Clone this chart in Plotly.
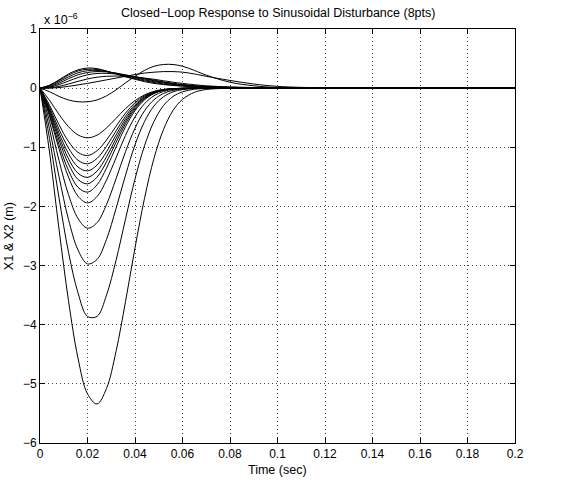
import plotly.graph_objects as go

# time samples (sec)
t = [0, 0.004, 0.008, 0.012, 0.016, 0.02, 0.024, 0.028, 0.032, 0.036, 0.04, 0.044,
     0.048, 0.052, 0.056, 0.06, 0.065, 0.07, 0.08, 0.09, 0.1, 0.12, 0.15, 0.2]

# responses in units of 1e-6 m
dip_084 = [0, -0.205, -0.444, -0.652, -0.791, -0.84, -0.795, -0.673, -0.511, -0.346, -0.211, -0.114,
           -0.055, -0.024, -0.009, -0.003, -0.001, 0, 0, 0, 0, 0, 0, 0]
dip_114 = [0, -0.287, -0.618, -0.902, -1.086, -1.139, -1.059, -0.877, -0.645, -0.423, -0.247, -0.129,
           -0.059, -0.024, -0.009, -0.003, 0, 0, 0, 0, 0, 0, 0, 0]
dip_128 = [0, -0.323, -0.694, -1.012, -1.220, -1.279, -1.189, -0.984, -0.724, -0.475, -0.278, -0.145,
           -0.067, -0.027, -0.010, -0.003, 0, 0, 0, 0, 0, 0, 0, 0]
dip_140 = [0, -0.353, -0.759, -1.107, -1.334, -1.399, -1.301, -1.077, -0.792, -0.519, -0.304, -0.158,
           -0.073, -0.030, -0.011, -0.004, 0, 0, 0, 0, 0, 0, 0, 0]
dip_151 = [0, -0.381, -0.818, -1.194, -1.439, -1.508, -1.403, -1.161, -0.855, -0.560, -0.328, -0.171,
           -0.079, -0.032, -0.012, -0.004, 0, 0, 0, 0, 0, 0, 0, 0]
dip_162 = [0, -0.408, -0.878, -1.281, -1.544, -1.618, -1.505, -1.246, -0.917, -0.601, -0.352, -0.183,
           -0.084, -0.035, -0.013, -0.004, 0, 0, 0, 0, 0, 0, 0, 0]
dip_176 = [0, -0.444, -0.954, -1.392, -1.677, -1.758, -1.635, -1.353, -0.996, -0.653, -0.382, -0.199,
           -0.092, -0.038, -0.014, -0.004, 0, 0, 0, 0, 0, 0, 0, 0]
dip_194 = [0, -0.473, -1.026, -1.505, -1.827, -1.940, -1.835, -1.554, -1.180, -0.799, -0.487, -0.264,
           -0.128, -0.056, -0.022, -0.008, -0.002, 0, 0, 0, 0, 0, 0, 0]
dip_237 = [0, -0.562, -1.221, -1.801, -2.204, -2.368, -2.275, -1.969, -1.533, -1.074, -0.678, -0.384,
           -0.197, -0.090, -0.037, -0.014, -0.004, 0, 0, 0, 0, 0, 0, 0]
dip_298 = [0, -0.688, -1.496, -2.220, -2.736, -2.971, -2.897, -2.557, -2.038, -1.472, -0.960, -0.566,
           -0.301, -0.146, -0.063, -0.025, -0.007, 0, 0, 0, 0, 0, 0, 0]
dip_388 = [0, -0.850, -1.855, -2.774, -3.461, -3.860, -3.860, -3.500, -2.914, -2.215, -1.536, -0.974,
           -0.563, -0.295, -0.142, -0.062, -0.019, -0.005, 0, 0, 0, 0, 0, 0]
dip_534 = [0, -1.079, -2.382, -3.594, -4.566, -5.169, -5.340, -5.078, -4.454, -3.610, -2.702, -1.864,
           -1.185, -0.700, -0.378, -0.190, -0.071, -0.023, -0.002, 0, 0, 0, 0, 0]

# small dip followed by the large late overshoot
dip_023 = [0, -0.06, -0.14, -0.20, -0.23, -0.23, -0.20, -0.13, -0.03, 0.09, 0.20, 0.30,
           0.37, 0.40, 0.40, 0.37, 0.30, 0.22, 0.10, 0.04, 0.01, 0, 0, 0]

# early positive humps
hump_034 = [0, 0.05, 0.14, 0.24, 0.31, 0.34, 0.33, 0.29, 0.24, 0.19, 0.15, 0.11,
            0.08, 0.06, 0.045, 0.035, 0.025, 0.018, 0.010, 0.005, 0.002, 0, 0, 0]
hump_032 = [0, 0.045, 0.13, 0.22, 0.29, 0.32, 0.315, 0.285, 0.245, 0.20, 0.16, 0.125,
            0.095, 0.07, 0.05, 0.037, 0.025, 0.017, 0.008, 0.004, 0.002, 0, 0, 0]
hump_030 = [0, 0.035, 0.11, 0.19, 0.26, 0.295, 0.30, 0.28, 0.25, 0.21, 0.175, 0.14,
            0.11, 0.085, 0.063, 0.046, 0.030, 0.020, 0.010, 0.005, 0.002, 0, 0, 0]
hump_028 = [0, 0.025, 0.085, 0.16, 0.225, 0.265, 0.28, 0.275, 0.255, 0.225, 0.19, 0.155,
            0.125, 0.097, 0.074, 0.055, 0.037, 0.024, 0.012, 0.006, 0.002, 0, 0, 0]
hump_025 = [0, 0.015, 0.06, 0.12, 0.18, 0.225, 0.248, 0.25, 0.24, 0.22, 0.195, 0.165,
            0.135, 0.107, 0.082, 0.062, 0.042, 0.028, 0.014, 0.007, 0.003, 0, 0, 0]
hump_020 = [0, 0.005, 0.03, 0.07, 0.115, 0.155, 0.185, 0.20, 0.205, 0.20, 0.19, 0.17,
            0.15, 0.125, 0.10, 0.08, 0.058, 0.04, 0.02, 0.01, 0.004, 0, 0, 0]
hump_late = [0, 0.0, 0.01, 0.03, 0.055, 0.08, 0.11, 0.14, 0.17, 0.20, 0.23, 0.255,
             0.27, 0.28, 0.28, 0.27, 0.24, 0.20, 0.13, 0.07, 0.03, 0.005, 0, 0]

curves = [dip_023, dip_084, dip_114, dip_128, dip_140, dip_151, dip_162, dip_176, dip_194,
          dip_237, dip_298, dip_388, dip_534,
          hump_034, hump_032, hump_030, hump_028, hump_025, hump_020, hump_late]

x_ticks = [0, 0.02, 0.04, 0.06, 0.08, 0.1, 0.12, 0.14, 0.16, 0.18, 0.2]
x_tick_text = ["0", "0.02", "0.04", "0.06", "0.08", "0.1", "0.12", "0.14", "0.16", "0.18", "0.2"]
y_ticks = [-6, -5, -4, -3, -2, -1, 0, 1]
y_tick_text = ["\u22126", "\u22125", "\u22124", "\u22123", "\u22122", "\u22121", "0", "1"]

fig = go.Figure()
for c in curves:
    fig.add_trace(go.Scatter(x=t, y=c, mode="lines", line=dict(color="black", width=1, shape="spline", smoothing=1.0),
                             showlegend=False, hoverinfo="skip"))

fam = "Liberation Sans, Arial, Helvetica, sans-serif"
tick_font = dict(family=fam, size=12, color="black")
label_font = dict(family=fam, size=12.5, color="black")
axis_common = dict(showline=True, linecolor="black", linewidth=1, mirror="allticks",
                   ticks="inside", ticklen=5, tickcolor="black", tickwidth=1,
                   showgrid=True, gridcolor="rgba(0,0,0,0.75)", gridwidth=1, griddash="1px,3px",
                   zeroline=False, tickfont=tick_font)
fig.update_xaxes(range=[0, 0.2], tickvals=x_ticks, ticktext=x_tick_text, **axis_common)
fig.update_yaxes(range=[-6, 1], tickvals=y_ticks, ticktext=y_tick_text, **axis_common)

fig.update_layout(
    width=576, height=480,
    margin=dict(l=40, r=61, t=29, b=37),
    paper_bgcolor="white", plot_bgcolor="white",
    font=label_font,
    annotations=[
        dict(text="Closed\u2212Loop Response to Sinusoidal Disturbance (8pts)", xref="paper", yref="paper",
             x=0.5, y=1.039, xanchor="center", yanchor="middle", showarrow=False, font=label_font),
        dict(text="x 10<sup>\u22126</sup>", xref="paper", yref="paper",
             x=0.005, y=1.0, xanchor="left", yanchor="bottom", showarrow=False, font=label_font),
        dict(text="Time (sec)", xref="paper", yref="paper",
             x=0.5, y=-0.065, xanchor="center", yanchor="middle", showarrow=False, font=label_font),
        dict(text="X1 &amp; X2 (m)", xref="paper", yref="paper", textangle=-90,
             x=-0.065, y=0.5, xanchor="center", yanchor="middle", showarrow=False, font=label_font),
    ],
)

fig.write_html("out.html", config={"displayModeBar": False},
               post_script="document.body.style.margin='0';document.body.style.padding='0';")
